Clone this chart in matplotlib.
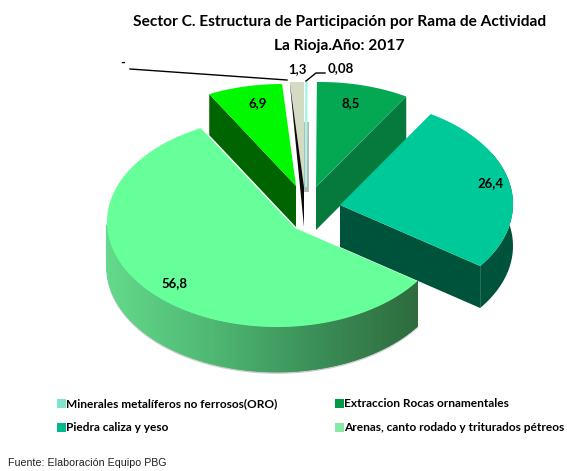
import numpy as np
import matplotlib
matplotlib.use("Agg")
import matplotlib.pyplot as plt
from matplotlib.collections import PolyCollection
from matplotlib.colors import LinearSegmentedColormap
from matplotlib.patches import Polygon, Rectangle

# clockwise from 12 o'clock
values = [0.08, 8.5, 26.4, 56.8, 6.9, 0.0, 1.3]
value_labels = ["0,08", "8,5", "26,4", "56,8", "6,9", "-", "1,3"]
top_colors = ["#a8f5e4", "#05a852", "#00c999", "#66ff99", "#00f800", "#000000", "#d3dcc3"]
wall_colors = ["#b4b8b6", "#067a3c", "#00533b", "#5fd587", "#006400", "#000000", "#0a0a0a"]

legend_labels = ["Minerales metalíferos no ferrosos(ORO)", "Extraccion Rocas ornamentales",
                 "Piedra caliza y yeso", "Arenas, canto rodado y triturados pétreos"]
legend_colors = ["#7fe3cd", "#009a45", "#00b98c", "#8ae8a6"]

title_lines = ["Sector C. Estructura de Participación por Rama de Actividad", "La Rioja.Año: 2017"]
source = "Fuente: Elaboración Equipo PBG"

# layout in pixels: apex, ellipse centre, depth, per slice
SQUASH = 0.6
RX, RY = 170, 105
apex = [(306, 187), (316, 187), (340, 205), (295, 228), (296, 186), (300, 187), (304, 187)]
centre = [(320, 187), (320, 187), (343, 204), (277, 222), (282, 189), (300, 187), (298, 187)]
depth = [43, 43, 42, 45, 41, 43, 40]
label_pos = [(341, 68), (351, 103), (491, 183), (174, 283), (258, 103), (123, 63), (297, 69)]

plt.rcParams['font.family'] = ['Lato', 'DejaVu Sans']

fig = plt.figure(figsize=(5.67, 4.71), dpi=100)
ax = fig.add_axes([0, 0, 1, 1])
ax.set_xlim(0, 567)
ax.set_ylim(471, 0)
ax.axis("off")


def rim_points(i, angles):
    # rays from the apex, cut with the slice's own ellipse
    ax_, ay_ = apex[i]
    cx, cy = centre[i]
    pts = []
    for a in angles:
        dx, dy = np.sin(a), -SQUASH * np.cos(a)
        ox, oy = (ax_ - cx) / RX, (ay_ - cy) / RY
        ux, uy = dx / RX, dy / RY
        A = ux * ux + uy * uy
        B = 2 * (ox * ux + oy * uy)
        C = ox * ox + oy * oy - 1
        t = (-B + np.sqrt(B * B - 4 * A * C)) / (2 * A)
        pts.append((ax_ + t * dx, ay_ + t * dy))
    return np.array(pts)


total = sum(values)
edges = np.radians(np.concatenate([[0], np.cumsum(values)]) / total * 360)

grad = LinearSegmentedColormap.from_list("wall", ["#63d98b", "#4fb873", "#3b8f58", "#2e6b3d"])
order = [1, 0, 6, 5, 4, 2, 3]

# soft grey strip under the tiny slice
ax.add_patch(Rectangle((304, 122), 5, 70, fc="#b4b8b6", ec="none", zorder=3))

for z, i in enumerate(order):
    if values[i] == 0:
        continue
    a0, a1 = edges[i], edges[i + 1]
    ang = np.linspace(a0, a1, max(int(np.degrees(a1 - a0)) * 4, 3))
    rim = rim_points(i, ang)
    ap = np.array(apex[i], dtype=float)
    d = np.array([0, depth[i]])

    # radial walls facing the viewer
    if i in (1, 2):
        q = [ap, rim[-1], rim[-1] + d, ap + d]
        ax.add_patch(Polygon(q, fc=wall_colors[i], ec="none", zorder=z * 3 + 1))
    if i == 4:
        q = [ap, rim[0], rim[0] + d, ap + d]
        ax.add_patch(Polygon(q, fc=wall_colors[i], ec="none", zorder=z * 3 + 1))
    if i == 6:
        # seen nearly edge on, so it thins out to the rim
        q = [ap, rim[0], ap + d]
        ax.add_patch(Polygon(q, fc=wall_colors[i], ec="none", zorder=z * 3 + 3))

    # outer wall
    if i == 2:
        low = rim[ang >= np.radians(60)]
        poly = np.vstack([low, (low + d)[::-1]])
        ax.add_patch(Polygon(poly, fc=wall_colors[i], ec="none", zorder=z * 3 + 1))
    if i == 3:
        r = rim[ang <= np.radians(272)]
        segs = [[r[k], r[k + 1], r[k + 1] + d, r[k] + d] for k in range(len(r) - 1)]
        t = (r[:-1, 0] - r[:, 0].min()) / (r[:, 0].max() - r[:, 0].min())
        cols = grad(t)
        ax.add_collection(PolyCollection(segs, facecolors=cols, edgecolors=cols, linewidths=0.5,
                                         zorder=z * 3 + 1))
        ax.plot((r + d)[:, 0], (r + d)[:, 1] + 1, color="#999999", lw=1.2, alpha=0.5, zorder=z * 3)

    top = np.vstack([ap, rim])
    lw = 1.2 if i == 0 else 0
    ax.add_patch(Polygon(top, fc=top_colors[i], ec=top_colors[i], lw=lw, zorder=z * 3 + 2))

for lab, (x, y) in zip(value_labels, label_pos):
    ax.text(x, y, lab, ha="center", va="center", fontsize=9.5, fontweight="bold", color="black", zorder=40)

# leader lines
ax.plot([130, 287], [69, 80], color="black", lw=1.0, zorder=30)
ax.plot([306, 316, 325], [81, 73, 73], color="black", lw=1.0, zorder=30)

ax.text(339.5, 22, title_lines[0], ha="center", va="center", fontsize=11.15, fontweight="bold")
ax.text(339, 46, title_lines[1], ha="center", va="center", fontsize=11.15, fontweight="bold")

leg_xy = [(61, 403), (339, 403), (61, 427), (339, 427)]
for lab, col, (x, y) in zip(legend_labels, legend_colors, leg_xy):
    ax.add_patch(Rectangle((x - 4, y - 4), 8.5, 8.5, fc=col, ec="none"))
    ax.text(x + 5.5, y + 0.5, lab, ha="left", va="center", fontsize=8.6, fontweight="bold")

ax.text(8, 463, source, ha="left", va="center", fontsize=7.7, color="#222222", family="Liberation Sans")

fig.savefig("out.png", dpi=100)
